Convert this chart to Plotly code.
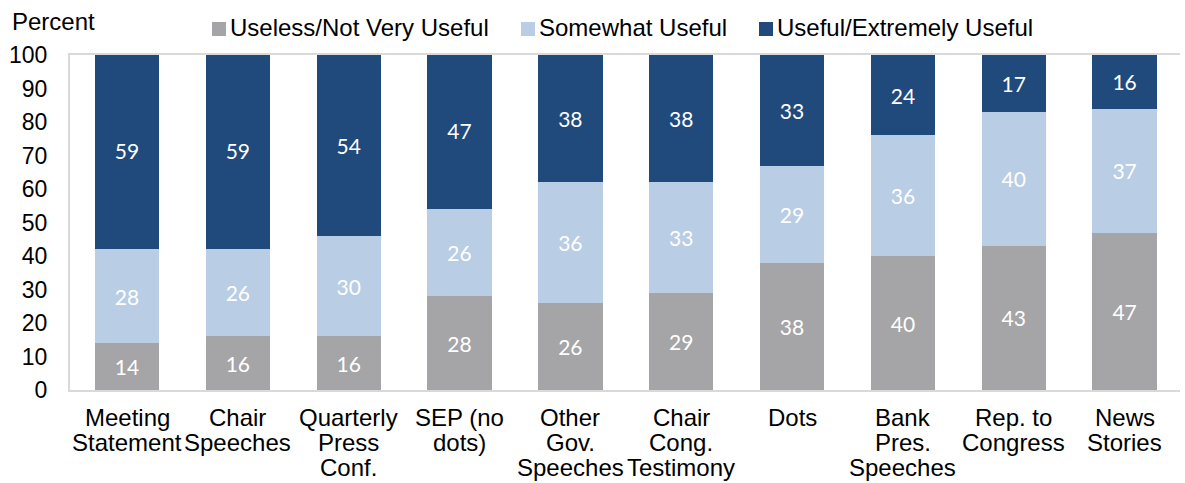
import plotly.graph_objects as go

categories = [
    "Meeting<br>Statement", "Chair<br>Speeches", "Quarterly<br>Press<br>Conf.",
    "SEP (no<br>dots)", "Other<br>Gov.<br>Speeches", "Chair<br>Cong.<br>Testimony",
    "Dots", "Bank<br>Pres.<br>Speeches", "Rep. to<br>Congress", "News<br>Stories",
]
useless = [14, 16, 16, 28, 26, 29, 38, 40, 43, 47]
somewhat = [28, 26, 30, 26, 36, 33, 29, 36, 40, 37]
useful = [59, 59, 54, 47, 38, 38, 33, 24, 17, 16]

series_names = ["Useless/Not Very Useful", "Somewhat Useful", "Useful/Extremely Useful"]
series_values = [useless, somewhat, useful]
series_colors = ["#A5A5A8", "#B9CDE5", "#214A7C"]

W, H = 1185, 483
ML, MR, MT, MB = 70, 5, 55, 93
PW, PH = W - ML - MR, H - MT - MB

def px_x(px):
    return (px - ML) / PW

def px_y(py):
    return (H - MB - py) / PH

label_font = dict(family="Lato, sans-serif", size=21, color="white")
text_font = dict(family="Liberation Sans, Arial, sans-serif", size=24, color="black")
tick_font = dict(family="Liberation Sans, Arial, sans-serif", size=23, color="black")

fig = go.Figure()
for name, vals, color in zip(series_names, series_values, series_colors):
    fig.add_trace(go.Bar(
        x=categories, y=vals, name=name,
        marker=dict(color=color, line=dict(width=0)),
        text=[str(v) for v in vals], textposition="inside",
        insidetextanchor="middle", textfont=label_font,
        constraintext="none",
        hoverinfo="skip", showlegend=False,
    ))

annotations = []
shapes = []

# Category labels, one annotation per line for tight line spacing
for cat in categories:
    for i, line in enumerate(cat.split("<br>")):
        annotations.append(dict(
            x=cat, xref="x", y=0, yref="paper", yanchor="middle",
            yshift=-(27 + 25 * i), text=line, showarrow=False,
            font=text_font,
        ))

# Legend row: colored squares with labels
legend_starts = [212, 521, 759]
for name, color, x0 in zip(series_names, series_colors, legend_starts):
    shapes.append(dict(
        type="rect", xref="paper", yref="paper",
        x0=px_x(x0), x1=px_x(x0 + 14), y0=px_y(36), y1=px_y(22),
        fillcolor=color, line=dict(width=0),
    ))
    annotations.append(dict(
        x=px_x(x0 + 16), y=px_y(28), xref="paper", yref="paper",
        xanchor="left", yanchor="middle", text=name, showarrow=False,
        font=text_font,
    ))

annotations.append(dict(
    text="Percent", x=px_x(10), y=px_y(22), xref="paper", yref="paper",
    xanchor="left", yanchor="middle", showarrow=False, font=text_font,
))

fig.update_layout(
    barmode="stack",
    bargap=0.42,
    width=W, height=H,
    margin=dict(l=ML, r=MR, t=MT, b=MB),
    paper_bgcolor="white", plot_bgcolor="white",
    font=text_font,
    showlegend=False,
    annotations=annotations,
    shapes=shapes,
)

fig.update_xaxes(
    showline=True, linecolor="#D9D9D9", linewidth=2, mirror=True,
    ticks="", showticklabels=False, showgrid=False,
)
fig.update_yaxes(
    range=[0, 100], dtick=10, tick0=0, showline=True, linecolor="#D9D9D9",
    linewidth=2, ticks="", tickfont=tick_font, showgrid=False, zeroline=False,
    ticklabelstandoff=16,
)

fig.write_html("out.html")
